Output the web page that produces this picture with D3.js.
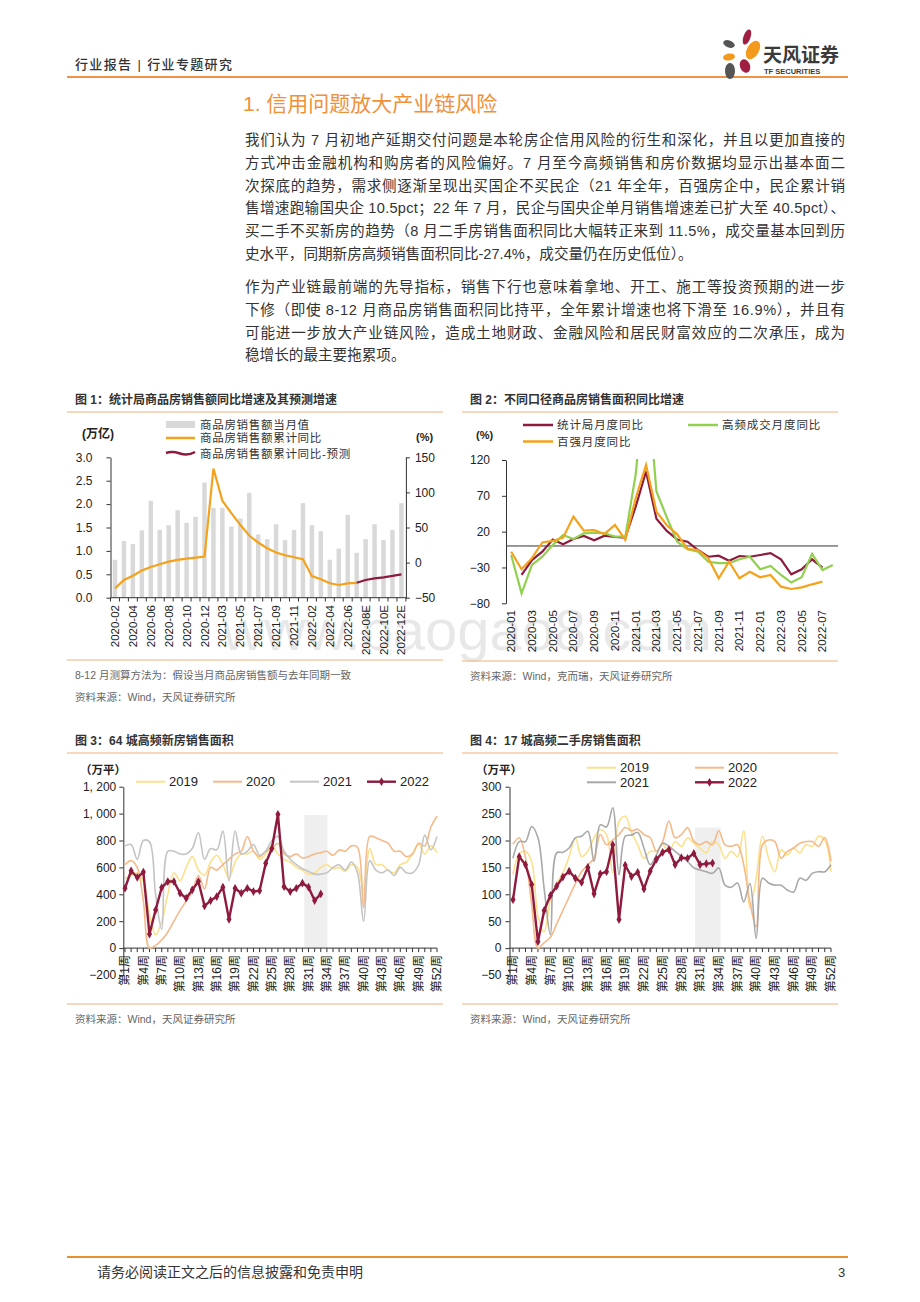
<!DOCTYPE html>
<html>
<head>
<meta charset="utf-8">
<script src="https://cdn.jsdelivr.net/npm/d3@7"></script>
<style>
body { margin: 0; background: #fff; }
svg text { font-family: "Liberation Sans", "Noto Sans CJK SC", sans-serif; }
</style>
</head>
<body>
<svg id="page" width="920" height="1302"></svg>
<script>
// ---- figure 1: monthly sales amount (万亿) and cumulative yoy (%)
const fig1Months = ["2020-02","2020-03","2020-04","2020-05","2020-06","2020-07","2020-08","2020-09","2020-10","2020-11","2020-12",
  "2021-02","2021-03","2021-04","2021-05","2021-06","2021-07","2021-08","2021-09","2021-10","2021-11","2021-12",
  "2022-02","2022-03","2022-04","2022-05","2022-06","2022-07","2022-08E","2022-09E","2022-10E","2022-11E","2022-12E"];
const fig1Amount = [0.81,1.21,1.15,1.44,2.07,1.45,1.55,1.87,1.60,1.73,2.46,
  1.92,1.92,1.52,1.69,2.24,1.35,1.25,1.57,1.23,1.45,2.02,
  1.55,1.42,0.81,1.05,1.77,0.96,1.25,1.57,1.23,1.45,2.02];
const fig1Cum = [-36.7,-24.8,-18.6,-11.4,-6.2,-2.4,1.4,3.8,5.7,7.1,8.6,
  134,88,70.5,53.8,38.6,28.6,20.5,14.3,10.5,7.6,4.8,
  -19.3,-23.8,-29.5,-31.9,-29.5,-28.8,null,null,null,null,null];
const fig1Forecast = [null,null,null,null,null,null,null,null,null,null,null,
  null,null,null,null,null,null,null,null,null,null,null,
  null,null,null,null,null,-28.8,-24.8,-22.4,-21,-19,-16.7];
const fig1TicksL = [0,0.5,1,1.5,2,2.5,3];
const fig1TicksR = [-50,0,50,100,150];

// ---- figure 2: monthly yoy of sales area, three sources (%)
const fig2Months = ["2020-01","2020-02","2020-03","2020-04","2020-05","2020-06","2020-07","2020-08","2020-09","2020-10","2020-11","2020-12",
  "2021-01","2021-02","2021-03","2021-04","2021-05","2021-06","2021-07","2021-08","2021-09","2021-10","2021-11","2021-12",
  "2022-01","2022-02","2022-03","2022-04","2022-05","2022-06","2022-07","2022-08"];
const fig2Stat = [null,-40.5,-19.6,-8,9,2.4,9.8,14,8,14.4,12.6,11.6,55,104,38,21,9,6,-5.6,-15,-13.5,-20.5,-14,-15,-12.6,-10,-18.6,-39.5,-32.5,-18.6,-30.3,null];
const fig2High = [-12.6,-66,-26.5,-15,1.4,15.4,9.8,17.7,18.6,17.7,13,13,100,250,76,40,6,-4.6,-8,-22,-24,-24,-18.6,-15,-32.5,-28,-40.5,-51,-43.7,-11,-33.5,-26.5];
const fig2Top100 = [-8,-32.5,-17,5,7,11.6,41,21.4,22.3,16.8,29.3,8.4,66.6,113,48,29,16.3,-4,-5.6,-17,-45,-22,-45,-36,-43.7,-40.5,-56.8,-60,-57.7,-53.5,-49.8,null];
const fig2Ticks = [-80,-30,20,70,120];

// ---- figures 3/4: weekly sales area (万平)
const weeks = d3.range(1, 53);
const weekLabels = d3.range(1, 53, 3);
const new2019 = [520,540,560,500,250,100,200,400,560,500,600,680,580,540,640,690,620,520,640,700,700,720,660,700,760,700,660,640,600,580,550,560,600,620,590,600,570,620,600,430,740,620,620,580,560,620,640,700,770,700,760,710];
const new2020 = [620,650,600,350,0,20,60,120,200,280,350,420,540,440,600,580,620,660,700,720,830,720,680,720,740,780,700,680,700,670,680,700,710,720,690,730,720,760,750,300,830,820,800,780,720,720,680,700,780,760,900,980];
const new2021 = [760,770,660,800,790,400,140,720,720,700,700,740,860,660,740,730,870,500,870,700,720,770,690,720,800,830,720,660,620,590,570,550,550,560,600,620,580,640,560,200,650,580,560,580,540,600,560,560,620,840,730,830];
const new2022 = [445,575,525,565,104,283,450,495,495,408,371,433,495,313,353,383,453,214,445,408,445,420,427,630,740,995,457,420,445,483,453,353,403];
const newTicks = [-200,0,200,400,600,800,1000,1200];

const sh2019 = [137,175,180,160,60,30,90,120,140,170,205,170,180,205,220,211,140,235,245,215,192,167,180,180,192,180,198,189,205,195,186,177,198,192,167,180,170,218,75,130,208,167,142,183,173,186,177,192,189,208,201,142];
const sh2020 = [193,205,168,80,0,10,20,45,70,95,120,142,155,167,211,192,201,211,224,218,221,211,205,180,198,236,205,211,224,199,192,198,192,218,192,189,192,155,85,40,192,201,198,167,180,186,195,198,198,189,205,161];
const sh2021 = [167,198,198,226,205,110,25,177,178,186,205,208,217,161,229,225,261,136,208,210,215,186,155,173,195,189,180,170,161,149,145,142,139,149,117,113,121,86,120,18,130,121,117,117,108,104,130,126,139,142,142,155];
const sh2022 = [90,170,155,118,12,70,98,115,132,143,130,122,150,101,138,142,192,53,154,133,141,110,143,165,178,183,155,168,167,176,155,157,158];
const shTicks = [-50,0,50,100,150,200,250,300];

const bodyP1 = [
  "我们认为 7 月初地产延期交付问题是本轮房企信用风险的衍生和深化，并且以更加直接的",
  "方式冲击金融机构和购房者的风险偏好。7 月至今高频销售和房价数据均显示出基本面二",
  "次探底的趋势，需求侧逐渐呈现出买国企不买民企（21 年全年，百强房企中，民企累计销",
  "售增速跑输国央企 10.5pct；22 年 7 月，民企与国央企单月销售增速差已扩大至 40.5pct）、",
  "买二手不买新房的趋势（8 月二手房销售面积同比大幅转正来到 11.5%，成交量基本回到历",
  "史水平，同期新房高频销售面积同比-27.4%，成交量仍在历史低位）。"];
const bodyP2 = [
  "作为产业链最前端的先导指标，销售下行也意味着拿地、开工、施工等投资预期的进一步",
  "下修（即使 8-12 月商品房销售面积同比持平，全年累计增速也将下滑至 16.9%），并且有",
  "可能进一步放大产业链风险，造成土地财政、金融风险和居民财富效应的二次承压，成为",
  "稳增长的最主要拖累项。"];

const CN = '"Noto Sans CJK SC", sans-serif';
const AX = '"Liberation Sans", Arial, sans-serif';
const RED = "#8E1B3E", ORG = "#F5A21B", GRN = "#92D050";
const RULE = "#F2B27A";

const svg = d3.select("#page");
svg.append("rect").attr("width", 920).attr("height", 1302).attr("fill", "#fff");

function txt(g, x, y, s, size, o) {
  o = o || {};
  const t = g.append("text").attr("x", x).attr("y", y).attr("dy", "0.35em")
    .attr("font-size", size).attr("fill", o.fill || "#333")
    .attr("font-family", o.family || CN).text(s);
  if (o.anchor) t.attr("text-anchor", o.anchor);
  if (o.weight) t.attr("font-weight", o.weight);
  if (o.ls) t.attr("letter-spacing", o.ls);
  return t;
}

// ---------------- header
txt(svg, 75, 64, "行业报告 | 行业专题研究", 13, {fill: "#333", weight: 500})
  .attr("textLength", 157).attr("lengthAdjust", "spacing");
svg.append("line").attr("x1", 67).attr("x2", 848).attr("y1", 77).attr("y2", 77)
  .attr("stroke", "#EE9343").attr("stroke-width", 2);
const logo = svg.append("g");
[[747,37,3.5,8,20,"#9E1F3F"],[753,50,6,10,30,"#F39A1E"],[729,44,6,3.5,20,"#555"],
 [729,57,6,3.5,-10,"#F39A1E"],[745,66,5,7,-20,"#9E1F3F"],[730,71,5,8,0,"#555"]].forEach(p => {
  logo.append("ellipse").attr("cx", p[0]).attr("cy", p[1]).attr("rx", p[2]).attr("ry", p[3])
    .attr("transform", `rotate(${p[4]},${p[0]},${p[1]})`).attr("fill", p[5]);
});
txt(svg, 763, 55, "天风证券", 19, {fill: "#3a3a3a", weight: 700});
txt(svg, 764, 71, "TF SECURITIES", 7.5, {fill: "#3a3a3a", weight: 700, family: AX});

// ---------------- section title and body
txt(svg, 243, 104, "1. 信用问题放大产业链风险", 21, {fill: "#F0913A"});
function para(lines, y0) {
  lines.forEach((s, i) => {
    const t = txt(svg, 245, y0 + i * 22.7, s, 14.6, {fill: "#333"});
    if (i < lines.length - 1) t.attr("textLength", 600).attr("lengthAdjust", "spacing");
  });
}
para(bodyP1, 140);
para(bodyP2, 287);

// ---------------- figure frame helper
function frame(x0, x1, yTitle, yBottom, title, notes) {
  txt(svg, x0 + 8, yTitle, title, 12, {fill: "#333", weight: 700});
  svg.append("line").attr("x1", x0).attr("x2", x1).attr("y1", yTitle + 12).attr("y2", yTitle + 12)
    .attr("stroke", RULE).attr("stroke-width", 1);
  svg.append("line").attr("x1", x0).attr("x2", x1).attr("y1", yBottom).attr("y2", yBottom)
    .attr("stroke", RULE).attr("stroke-width", 1);
  notes.forEach((n, i) => txt(svg, x0 + 8, yBottom + 15 + i * 22, n, 10.5, {fill: "#666"}));
}

function styleAxis(sel, size) {
  sel.attr("font-family", AX).attr("font-size", size || 12);
  sel.selectAll("path, line").attr("stroke", "#333");
  sel.selectAll("text").attr("fill", "#222");
}

// ---------------- watermark (drawn early, faint)
const wm = svg.append("text").attr("x", 222).attr("y", 650).attr("font-size", 58).attr("font-family", AX)
  .attr("fill", "#000").attr("fill-opacity", 0.09).text("www.baogao8.com");

// ---------------- figure 1
frame(67, 443, 400, 660, "图 1：统计局商品房销售额同比增速及其预测增速",
  ["8-12 月测算方法为：假设当月商品房销售额与去年同期一致", "资料来源：Wind，天风证券研究所"]);
(function() {
  const g = svg.append("g");
  const x = d3.scaleBand().domain(fig1Months).range([110.5, 405.9]).paddingInner(0.5).paddingOuter(0.25);
  const yL = d3.scaleLinear().domain([0, 3]).range([597.7, 457.3]);
  const yR = d3.scaleLinear().domain([-50, 150]).range([597.7, 457.3]);
  g.selectAll(".bar").data(fig1Amount).enter().append("rect")
    .attr("x", (d, i) => x(fig1Months[i])).attr("width", x.bandwidth())
    .attr("y", d => yL(d)).attr("height", d => yL(0) - yL(d)).attr("fill", "#D9D9D9");
  const cx = i => x(fig1Months[i]) + x.bandwidth() / 2;
  const ln = d3.line().defined(d => d != null).x((d, i) => cx(i)).y(d => yR(d));
  g.append("path").attr("d", ln(fig1Cum)).attr("fill", "none").attr("stroke", ORG).attr("stroke-width", 2.2);
  g.append("path").attr("d", ln(fig1Forecast)).attr("fill", "none").attr("stroke", RED).attr("stroke-width", 2.2);

  styleAxis(g.append("g").attr("transform", "translate(110.5,0)")
    .call(d3.axisLeft(yL).tickValues(fig1TicksL).tickSize(4).tickPadding(14).tickSizeOuter(0).tickFormat(d3.format(".1f"))));
  styleAxis(g.append("g").attr("transform", "translate(405.9,0)")
    .call(d3.axisRight(yR).tickValues(fig1TicksR).tickSize(4).tickPadding(5).tickSizeOuter(0)));
  g.append("line").attr("x1", 110.5).attr("x2", 405.9).attr("y1", 597.7).attr("y2", 597.7).attr("stroke", "#333");
  d3.range(fig1Months.length + 1).forEach(i => {
    const xx = 110.5 + i * x.step();
    g.append("line").attr("x1", xx).attr("x2", xx).attr("y1", 597.7).attr("y2", 601.5).attr("stroke", "#333");
  });
  fig1Months.forEach((m, i) => {
    if (i % 2) return;
    g.append("text").attr("transform", `translate(${cx(i)},605) rotate(-90)`).attr("dy", "0.35em")
      .attr("text-anchor", "end").attr("font-size", 11.5).attr("font-family", AX).attr("fill", "#222").text(m);
  });
  txt(g, 82, 434, "(万亿)", 12, {weight: 700, fill: "#222"});
  txt(g, 416, 437, "(%)", 11, {weight: 700, fill: "#222"});
  // legend
  g.append("rect").attr("x", 166).attr("y", 421).attr("width", 29).attr("height", 7).attr("fill", "#D9D9D9");
  g.append("line").attr("x1", 166).attr("x2", 195).attr("y1", 438).attr("y2", 438).attr("stroke", ORG).attr("stroke-width", 2.5);
  g.append("path").attr("d", "M166,453 Q172,451 180,453.5 T195,452").attr("fill", "none").attr("stroke", RED).attr("stroke-width", 2.5);
  txt(g, 200, 424.5, "商品房销售额当月值", 11.5, {ls: 0.7});
  txt(g, 200, 438, "商品房销售额累计同比", 11.5, {ls: 0.7});
  txt(g, 200, 453.5, "商品房销售额累计同比-预测", 11.5, {ls: 0.7});
})();

// ---------------- figure 2
frame(462, 838, 400, 661, "图 2：不同口径商品房销售面积同比增速", ["资料来源：Wind，克而瑞，天风证券研究所"]);
(function() {
  const g = svg.append("g");
  const x = d3.scaleBand().domain(fig2Months).range([506, 838]);
  const y = d3.scaleLinear().domain([-80, 120]).range([603.3, 460]);
  svg.append("clipPath").attr("id", "c2").append("rect").attr("x", 500).attr("y", 459).attr("width", 345).attr("height", 150);
  const cx = i => x(fig2Months[i]) + x.bandwidth() / 2;
  g.append("line").attr("x1", 506).attr("x2", 838).attr("y1", y(0)).attr("y2", y(0)).attr("stroke", "#333");
  const ln = d3.line().defined(d => d != null).x((d, i) => cx(i)).y(d => y(d));
  const pl = g.append("g").attr("clip-path", "url(#c2)");
  [[fig2Stat, RED], [fig2High, GRN], [fig2Top100, ORG]].forEach(s => {
    pl.append("path").attr("d", ln(s[0])).attr("fill", "none").attr("stroke", s[1]).attr("stroke-width", 2.2);
  });
  styleAxis(g.append("g").attr("transform", "translate(506,0)")
    .call(d3.axisLeft(y).tickValues(fig2Ticks).tickSize(4).tickPadding(12).tickSizeOuter(0)));
  fig2Months.forEach((m, i) => {
    if (i % 2) return;
    g.append("text").attr("transform", `translate(${cx(i)},610) rotate(-90)`).attr("dy", "0.35em")
      .attr("text-anchor", "end").attr("font-size", 11.5).attr("font-family", AX).attr("fill", "#222").text(m);
  });
  txt(g, 476, 435, "(%)", 11, {weight: 700, fill: "#222"});
  [[523, 425, RED, "统计局月度同比"], [688, 425, GRN, "高频成交月度同比"], [523, 441.5, ORG, "百强月度同比"]].forEach(l => {
    g.append("line").attr("x1", l[0]).attr("x2", l[0] + 30).attr("y1", l[1]).attr("y2", l[1]).attr("stroke", l[2]).attr("stroke-width", 2.5);
    txt(g, l[0] + 34, l[1], l[3], 11.5, {ls: 0.9});
  });
})();

// ---------------- figures 3 and 4
function weekly(o) {
  const g = svg.append("g");
  const x = d3.scaleLinear().domain([1, 52]).range([o.x0, o.x1]);
  const y = d3.scaleLinear().domain(o.domain).range([975, 786.7]);
  g.append("rect").attr("x", x(o.shade[0])).attr("width", x(o.shade[1]) - x(o.shade[0]))
    .attr("y", y(o.shadeTop)).attr("height", y(0) - y(o.shadeTop)).attr("fill", "#EFEFEF");
  styleAxis(g.append("g").attr("transform", `translate(${o.ax},0)`)
    .call(d3.axisLeft(y).tickValues(o.ticks).tickSize(4).tickPadding(o.pad).tickSizeOuter(0).tickFormat(o.fmt)), 12);
  g.append("line").attr("x1", o.ax).attr("x2", o.x1).attr("y1", y(0)).attr("y2", y(0)).attr("stroke", "#333");
  weeks.forEach(w => g.append("line").attr("x1", x(w)).attr("x2", x(w)).attr("y1", y(0)).attr("y2", y(0) + 4).attr("stroke", "#333"));
  weekLabels.forEach(w => {
    g.append("text").attr("transform", `translate(${x(w)},955) rotate(-90)`).attr("dy", "0.35em")
      .attr("text-anchor", "end").attr("font-size", 12).attr("fill", "#222").text("第" + w + "周");
  });
  const smooth = d3.line().x((d, i) => x(weeks[i])).y(d => y(d)).curve(d3.curveCatmullRom.alpha(0.5));
  o.series.forEach(s => {
    g.append("path").attr("d", smooth(s.data)).attr("fill", "none").attr("stroke", s.color).attr("stroke-width", 1.6);
  });
  const straight = d3.line().x((d, i) => x(weeks[i])).y(d => y(d));
  g.append("path").attr("d", straight(o.cur)).attr("fill", "none").attr("stroke", RED).attr("stroke-width", 2.4);
  g.selectAll(".mk").data(o.cur).enter().append("path")
    .attr("d", d3.symbol(d3.symbolDiamond, 22))
    .attr("transform", (d, i) => `translate(${x(weeks[i])},${y(d)})`).attr("fill", RED);
  txt(g, o.unitX, 770, "（万平）", 11.5, {weight: 700, fill: "#222"});
  o.legend.forEach(l => {
    if (l.marker) {
      g.append("line").attr("x1", l.x).attr("x2", l.x + 29).attr("y1", l.y).attr("y2", l.y).attr("stroke", RED).attr("stroke-width", 2.4);
      g.append("path").attr("d", d3.symbol(d3.symbolDiamond, 22)).attr("transform", `translate(${l.x + 14.5},${l.y})`).attr("fill", RED);
    } else {
      g.append("line").attr("x1", l.x).attr("x2", l.x + 29).attr("y1", l.y).attr("y2", l.y).attr("stroke", l.color).attr("stroke-width", 2);
    }
    txt(g, l.x + 33, l.y, l.label, 13, {family: AX, fill: "#222"});
  });
}

frame(67, 443, 741, 1004, "图 3：64 城高频新房销售面积", ["资料来源：Wind，天风证券研究所"]);
weekly({
  x0: 125, x1: 437, ax: 123.3, domain: [-200, 1200], ticks: newTicks, pad: 3,
  fmt: v => d3.format(",")(v).replace(",", ", "),
  shade: [30.3, 34.1], shadeTop: 990, unitX: 80,
  series: [{data: new2019, color: "#FCE08C"}, {data: new2020, color: "#F5B98A"}, {data: new2021, color: "#C4C4C4"}],
  cur: new2022,
  legend: [{x: 136, y: 781.7, color: "#FCE08C", label: "2019"}, {x: 213, y: 781.7, color: "#F5B98A", label: "2020"},
           {x: 290, y: 781.7, color: "#C4C4C4", label: "2021"}, {x: 367, y: 781.7, marker: true, label: "2022"}]
});

frame(462, 838, 741, 1004, "图 4：17 城高频二手房销售面积", ["资料来源：Wind，天风证券研究所"]);
weekly({
  x0: 513, x1: 831, ax: 509.5, domain: [-50, 300], ticks: shTicks, pad: 4,
  fmt: d3.format("d"),
  shade: [30.2, 34.3], shadeTop: 224, unitX: 476,
  series: [{data: sh2019, color: "#FCE08C"}, {data: sh2020, color: "#F5B98A"}, {data: sh2021, color: "#A8A8A8"}],
  cur: sh2022,
  legend: [{x: 587, y: 767.7, color: "#FCE08C", label: "2019"}, {x: 695, y: 767.7, color: "#F5B98A", label: "2020"},
           {x: 587, y: 782.3, color: "#A8A8A8", label: "2021"}, {x: 695, y: 782.3, marker: true, label: "2022"}]
});

// ---------------- footer
svg.append("line").attr("x1", 67).attr("x2", 848).attr("y1", 1257).attr("y2", 1257)
  .attr("stroke", "#E8912E").attr("stroke-width", 2);
txt(svg, 97, 1272, "请务必阅读正文之后的信息披露和免责申明", 14, {fill: "#333"});
txt(svg, 838, 1272, "3", 13, {fill: "#333", family: AX});
</script>
</body>
</html>
